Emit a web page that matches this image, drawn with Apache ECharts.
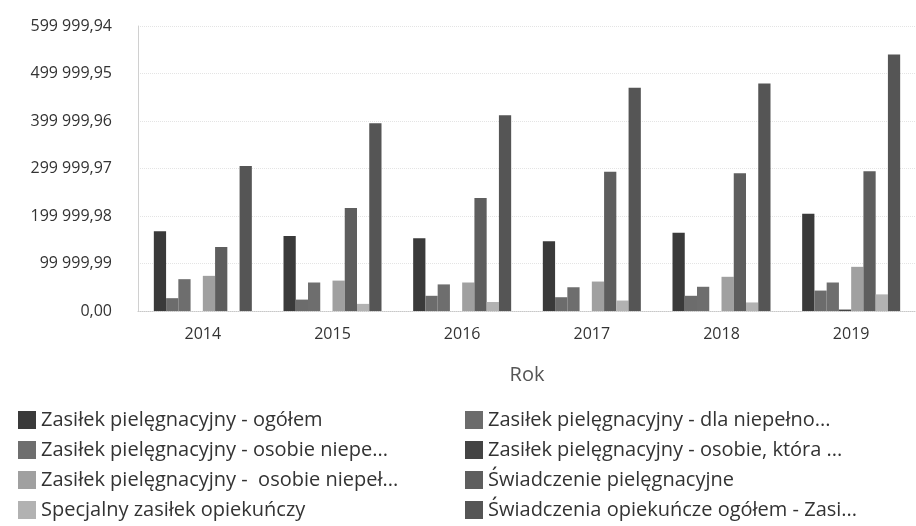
<!DOCTYPE html>
<html>
<head>
<meta charset="utf-8">
<script src="https://cdn.jsdelivr.net/npm/echarts@6/dist/echarts.min.js"></script>
<style>html,body{margin:0;padding:0;background:#fff}#c{width:916px;height:526px}</style>
</head>
<body>
<div id="c"></div>
<script>
const years = ['2014','2015','2016','2017','2018','2019'];
const seriesNames = [
  'Zasiłek pielęgnacyjny - ogółem',
  'Zasiłek pielęgnacyjny - dla niepełno...',
  'Zasiłek pielęgnacyjny - osobie niepe...',
  'Zasiłek pielęgnacyjny - osobie, która ...',
  'Zasiłek pielęgnacyjny -  osobie niepeł...',
  'Świadczenie pielęgnacyjne',
  'Specjalny zasiłek opiekuńczy',
  'Świadczenia opiekuńcze ogółem - Zasi...'
];
const zasilekOgolem        = [168000, 158000, 153000, 147000, 165000, 205000];
const dlaNiepelnosprawnego = [27000, 24000, 32000, 29000, 32000, 43000];
const osobieNiepe          = [67000, 60000, 56000, 50000, 51000, 60000];
const osobieKtora          = [0, 0, 0, 0, 0, 3000];
const osobieNiepel         = [74000, 64000, 60000, 62000, 72000, 93000];
const swiadczeniePiel      = [135000, 217000, 238000, 293000, 290000, 294000];
const specjalnyZasilek     = [0, 15000, 19000, 22000, 18000, 35000];
const swiadczeniaOgolem    = [305000, 395000, 412000, 470000, 479000, 540000];
const yTicks = [0, 99999.99, 199999.98, 299999.97, 399999.96, 499999.95, 599999.94];

const values = [zasilekOgolem, dlaNiepelnosprawnego, osobieNiepe, osobieKtora, osobieNiepel, swiadczeniePiel, specjalnyZasilek, swiadczeniaOgolem];
const colors = ['#3a3a3a', '#6c6c6c', '#6e6e6e', '#444444', '#a0a0a0', '#5e5e5e', '#b2b2b2', '#555555'];

function fmt(v) {
  const s = (Math.round(v * 100) / 100).toFixed(2);
  const [i, d] = s.split('.');
  return i.replace(/\B(?=(\d{3})+(?!\d))/g, ' ') + ',' + d;
}

const chart = echarts.init(document.getElementById('c'));
const legendText = { fontFamily: 'Open Sans', fontSize: 20, lineHeight: 20, color: '#333' };
const legendBase = { orient: 'vertical', top: 410, height: 116, padding: 0, icon: 'rect',
  itemWidth: 18, itemHeight: 18, itemGap: 10, textStyle: legendText };
chart.setOption({
  animation: false,
  color: colors,
  grid: { left: 138, top: 26, width: 784, bottom: 215 },
  legend: [
    Object.assign({ left: 18, data: [seriesNames[0], seriesNames[2], seriesNames[4], seriesNames[6]] }, legendBase),
    Object.assign({ left: 465, data: [seriesNames[1], seriesNames[3], seriesNames[5], seriesNames[7]] }, legendBase)
  ],
  xAxis: {
    type: 'category', data: years,
    name: 'Rok', nameLocation: 'middle', nameGap: 54,
    nameTextStyle: { fontFamily: 'Open Sans', fontSize: 20, color: '#555' },
    axisLine: { lineStyle: { color: '#c8c8c8', type: 'dotted' } },
    axisTick: { show: false },
    axisLabel: { fontFamily: 'Open Sans', fontSize: 16, color: '#333', margin: 15 }
  },
  yAxis: {
    type: 'value', min: 0, max: yTicks[yTicks.length - 1], interval: yTicks[1],
    axisLine: { show: true, lineStyle: { color: '#d0d0d0' } },
    axisTick: { show: false },
    splitLine: { lineStyle: { color: '#e4e4e4', type: 'dotted' } },
    axisLabel: { fontFamily: 'Open Sans', fontSize: 16, color: '#333', margin: 26, formatter: fmt }
  },
  series: seriesNames.map((n, i) => ({
    name: n, type: 'bar', data: values[i],
    barWidth: 12.25, barGap: '0%'
  }))
});
</script>
</body>
</html>
